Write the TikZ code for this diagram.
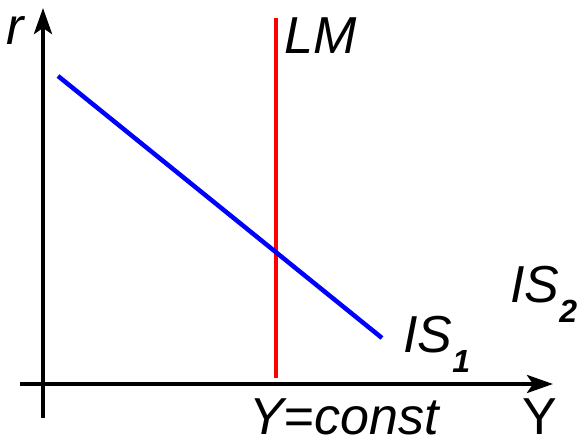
\documentclass[tikz,border=0pt]{standalone}
\usepackage{fontspec}
\setmainfont{Liberation Sans}
\usetikzlibrary{arrows.meta}
\newcommand\mysubfnt{\fontsize{32}{32}\selectfont\bfseries\itshape}
\begin{document}
\begin{tikzpicture}[x=1pt,y=-1pt,
  axis/.style={line width=4pt,-{Stealth[length=26pt,width=18pt,inset=6pt]}},
  lbl/.style={inner sep=0pt,anchor=base west,font=\fontsize{52}{52}\selectfont}]
\useasboundingbox (0,0) rectangle (584,443);
\coordinate (yb) at (43,418);
\coordinate (yt) at (43,8);
\coordinate (xl) at (20,384);
\coordinate (xr) at (553,384);
\draw[axis] (yb) -- (yt);
\draw[axis] (xl) -- (xr);
\coordinate (lmb) at (276,378);
\coordinate (lmt) at (276,18);
\draw[red,line width=4pt] (lmb) -- (lmt);
\coordinate (is1a) at (58,76);
\coordinate (is1b) at (382,338);
\draw[blue,line width=4.5pt] (is1a) -- (is1b);
\node[lbl] (r) at (6,45) {\itshape r};
\node[lbl] (lm) at (284,54) {\itshape LM};
\node[lbl] (is1) at (403,353) {\itshape IS\raisebox{-20pt}{\mysubfnt 1}};
\node[lbl] (is2) at (510,303) {\itshape IS\raisebox{-20pt}{\mysubfnt 2}};
\node[lbl] (yc) at (249,435) {\itshape Y=const};
\node[lbl] (y) at (522,435) {Y};
\end{tikzpicture}
\end{document}
